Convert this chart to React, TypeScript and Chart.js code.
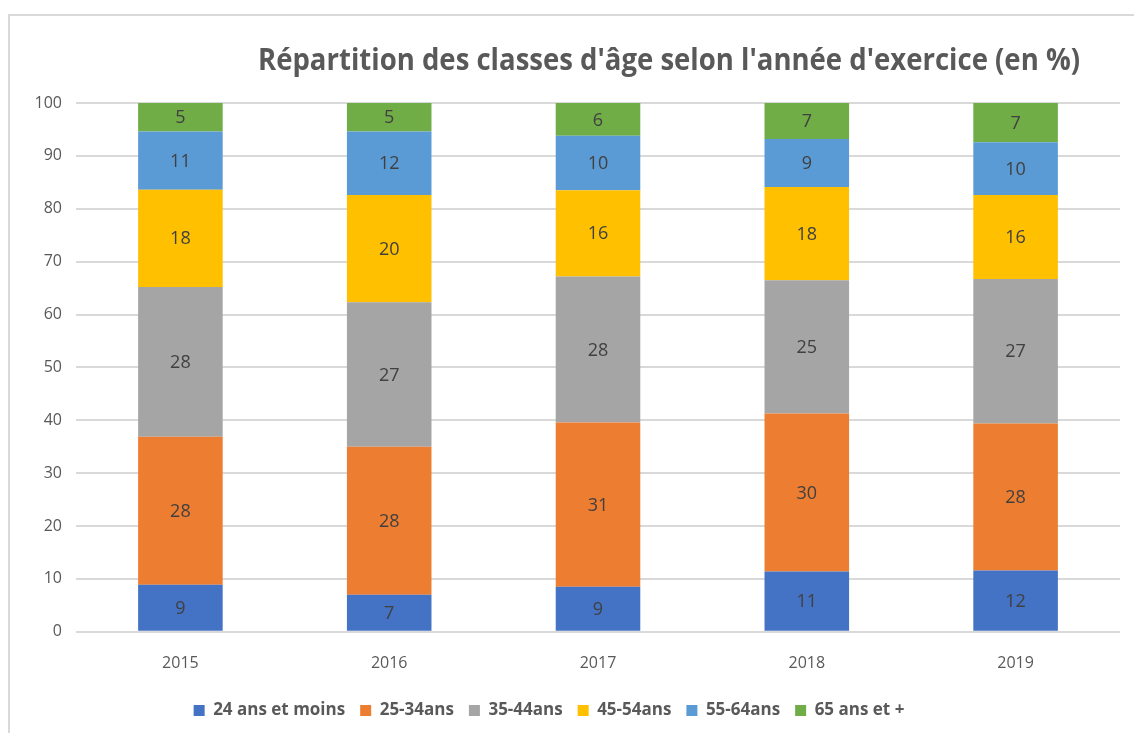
import React, { useEffect, useRef } from "react";
import { Chart, registerables } from "chart.js";

Chart.register(...registerables);

const years = ["2015", "2016", "2017", "2018", "2019"];
const seriesNames = ["24 ans et moins", "25-34ans", "35-44ans", "45-54ans", "55-64ans", "65 ans et +"];
const s24 = [8.9, 7.0, 8.5, 11.4, 11.6];
const s25 = [28.0, 28.0, 31.1, 29.9, 27.8];
const s35 = [28.3, 27.3, 27.6, 25.2, 27.3];
const s45 = [18.4, 20.3, 16.3, 17.6, 15.9];
const s55 = [11.0, 12.0, 10.3, 9.1, 10.0];
const s65 = [5.4, 5.4, 6.2, 6.8, 7.4];
const seriesColors = ["#4472C4", "#ED7D31", "#A5A5A5", "#FFC000", "#5B9BD5", "#70AD47"];
const titleText = "Répartition des classes d'âge selon l'année d'exercice (en %)";

const FONT = "'Open Sans', 'Noto Sans', sans-serif";

const framePlugin = {
  id: "frame",
  afterLayout(chart: any) {
    if (chart.legend) {
      chart.legend.left -= 16;
      chart.legend.right -= 16;
    }
  },
  beforeDraw(chart: any) {
    const ctx = chart.ctx;
    ctx.save();
    ctx.strokeStyle = "#d9d9d9";
    ctx.lineWidth = 2;
    ctx.beginPath();
    ctx.moveTo(9, chart.height);
    ctx.lineTo(9, 15);
    ctx.lineTo(chart.width, 15);
    ctx.stroke();
    ctx.restore();
  },
};

const titlePlugin = {
  id: "customTitle",
  afterDraw(chart: any) {
    const ctx = chart.ctx;
    ctx.save();
    ctx.font = `bold 31px ${FONT}`;
    ctx.fillStyle = "#595959";
    ctx.textAlign = "center";
    ctx.textBaseline = "middle";
    const target = 822;
    const w = ctx.measureText(titleText).width;
    const sx = Math.min(1, target / w);
    ctx.translate(669, 61);
    ctx.scale(sx, 1);
    ctx.fillText(titleText, 0, 0);
    ctx.restore();
  },
};

const labelPlugin = {
  id: "segLabels",
  afterDatasetsDraw(chart: any) {
    const ctx = chart.ctx;
    ctx.save();
    ctx.font = `18px ${FONT}`;
    ctx.fillStyle = "#404040";
    ctx.textAlign = "center";
    ctx.textBaseline = "middle";
    chart.data.datasets.forEach((ds: any, i: number) => {
      const meta = chart.getDatasetMeta(i);
      meta.data.forEach((bar: any, j: number) => {
        const v = ds.data[j];
        const y = (bar.y + bar.base) / 2;
        ctx.fillText(String(Math.round(v)), bar.x, y + 1);
      });
    });
    ctx.restore();
  },
};

export default function App() {
  const ref = useRef<HTMLCanvasElement | null>(null);
  useEffect(() => {
    document.body.style.margin = "0";
    const all = [s24, s25, s35, s45, s55, s65];
    const chart = new Chart(ref.current as HTMLCanvasElement, {
      type: "bar",
      data: {
        labels: years,
        datasets: all.map((d, i) => ({
          label: seriesNames[i],
          data: d,
          backgroundColor: seriesColors[i],
          borderWidth: 0,
          categoryPercentage: 1,
          barPercentage: 0.405,
        })),
      },
      options: {
        animation: false,
        responsive: false,
        maintainAspectRatio: false,
        layout: { padding: { top: 103, left: 10, right: 14, bottom: 4 } },
        plugins: {
          title: { display: false },
          tooltip: { enabled: false },
          legend: {
            position: "bottom",
            labels: {
              boxWidth: 11,
              boxHeight: 11,
              color: "#595959",
              font: { family: FONT, size: 17, weight: "bold" },
              padding: 15,
            },
          },
        },
        scales: {
          x: {
            stacked: true,
            grid: { display: false },
            border: { display: false },
            ticks: { color: "#595959", font: { family: FONT, size: 16 }, padding: 14 },
          },
          y: {
            stacked: true,
            min: 0,
            max: 100,
            grid: { color: "#d9d9d9", lineWidth: 2, drawTicks: false },
            border: { display: false },
            ticks: { stepSize: 10, color: "#595959", font: { family: FONT, size: 16 }, padding: 14 },
            afterFit(scale: any) {
              scale.width = 66;
            },
          },
        },
      },
      plugins: [framePlugin, titlePlugin, labelPlugin],
    } as any);
    return () => chart.destroy();
  }, []);
  return (
    <div style={{ width: 1134, height: 733 }}>
      <canvas ref={ref} width={1134} height={733} style={{ display: "block" }} />
    </div>
  );
}
